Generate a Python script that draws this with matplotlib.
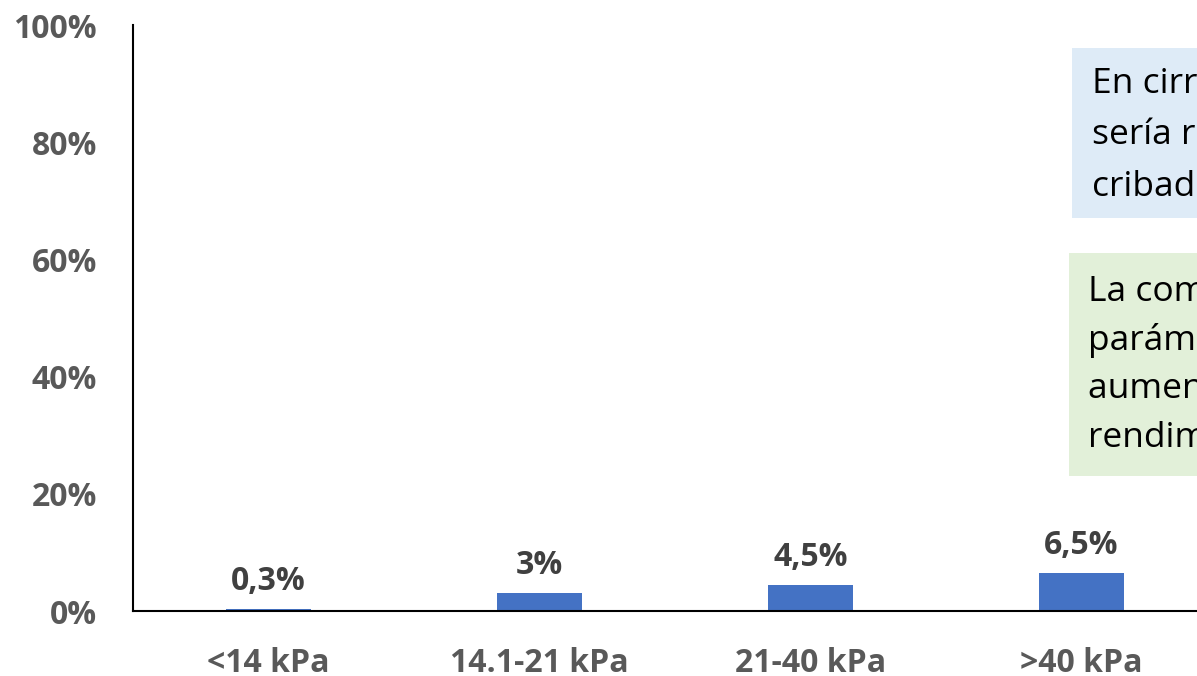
import matplotlib
matplotlib.use("Agg")
import matplotlib.pyplot as plt
from matplotlib.patches import Rectangle
from matplotlib.ticker import FuncFormatter

# Data
categories = ["<14 kPa", "14.1-21 kPa", "21-40 kPa", ">40 kPa"]
values = [0.3, 3.0, 4.5, 6.5]
value_labels = ["0,3%", "3%", "4,5%", "6,5%"]
y_ticks = [0, 20, 40, 60, 80, 100]

box1_lines = ["En cirrosis compensada", "sería razonable realizar", "cribado de varices"]
box2_lines = ["La combinación de", "parámetros analíticos", "aumenta el", "rendimiento diagnóstico"]

W, H = 1197, 676
DPI = 100
plt.rcParams["font.family"] = ["Open Sans", "DejaVu Sans"]

fig = plt.figure(figsize=(W / DPI, H / DPI), dpi=DPI)

# Axes in pixel geometry: left spine at x=133, 0% at y=611, 100% at y=25
ax_left, ax_bottom, ax_top = 133, 611, 25
ax_right = W
ax = fig.add_axes([ax_left / W, (H - ax_bottom) / H,
                   (ax_right - ax_left) / W, (ax_bottom - ax_top) / H])

cat_px = 271.0  # pixels per category slot
x = list(range(len(categories)))
ax.bar(x, values, width=0.31, color="#4472C4", zorder=2)
ax.set_xlim(-0.5, -0.5 + (ax_right - ax_left) / cat_px)
ax.set_ylim(0, 100)

ax.set_yticks(y_ticks)
ax.yaxis.set_major_formatter(FuncFormatter(lambda v, p: f"{v:.0f}%"))
ax.set_xticks(x)
ax.set_xticklabels(categories)

for lab in ax.get_yticklabels() + ax.get_xticklabels():
    lab.set_fontsize(23)
    lab.set_fontweight("bold")
    lab.set_color("#595959")
ax.tick_params(axis="both", length=0)
ax.tick_params(axis="y", pad=26)
ax.tick_params(axis="x", pad=26)

for s in ["top", "right"]:
    ax.spines[s].set_visible(False)
for s in ["left", "bottom"]:
    ax.spines[s].set_color("black")
    ax.spines[s].set_linewidth(1.5)

for xi, v, lab in zip(x, values, value_labels):
    ax.annotate(lab, (xi, v), xytext=(0, 8), textcoords="offset points",
                ha="center", va="bottom", fontsize=23, fontweight="bold",
                color="#404040")

# Callout boxes at the right edge
def px_rect(x0, y0, x1, y1, color):
    fig.patches.append(Rectangle((x0 / W, 1 - y1 / H), (x1 - x0) / W, (y1 - y0) / H,
                                 transform=fig.transFigure, facecolor=color,
                                 edgecolor="none", zorder=3))

px_rect(1072, 48, 1400, 218, "#DEEBF7")
px_rect(1069, 253, 1400, 476, "#E2F0D9")

for i, line in enumerate(box1_lines):
    fig.text(1092 / W, 1 - (84 + i * 51.5) / H, line, fontsize=25.5, color="black",
             va="center", ha="left", zorder=4)
for i, line in enumerate(box2_lines):
    fig.text(1088 / W, 1 - (292 + i * 48.5) / H, line, fontsize=25.5, color="black",
             va="center", ha="left", zorder=4)

fig.savefig("out.png", dpi=DPI)
